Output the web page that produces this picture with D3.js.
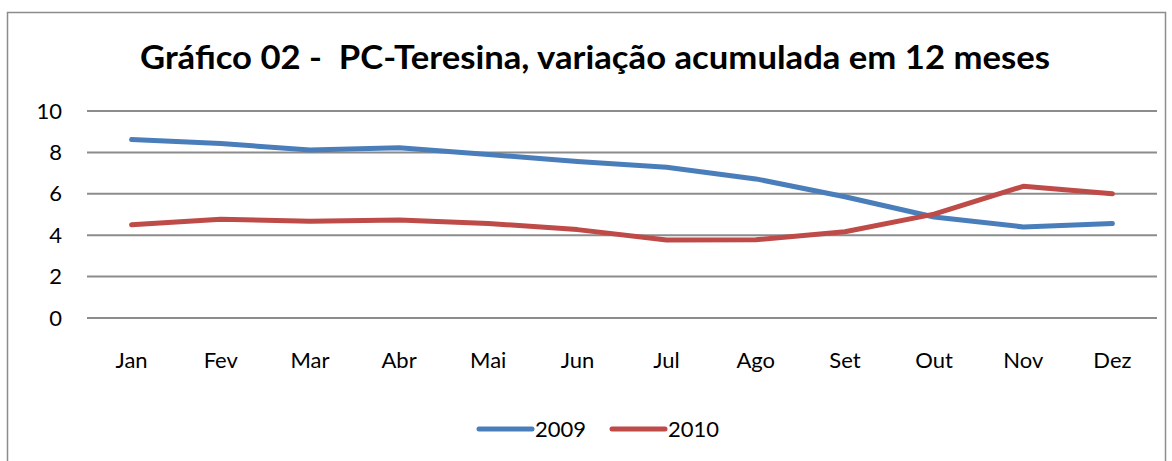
<!DOCTYPE html>
<html><head><meta charset="utf-8">
<script src="https://cdn.jsdelivr.net/npm/d3@7"></script>
<style>body{margin:0;background:#fff;} svg{display:block;} text{white-space:pre;}</style>
</head><body>
<script>
const months = ["Jan","Fev","Mar","Abr","Mai","Jun","Jul","Ago","Set","Out","Nov","Dez"];
const values2009 = [8.62, 8.43, 8.12, 8.23, 7.9, 7.56, 7.28, 6.72, 5.86, 4.88, 4.4, 4.56];
const values2010 = [4.5, 4.77, 4.67, 4.73, 4.57, 4.27, 3.77, 3.78, 4.17, 5.02, 6.36, 6.0];
const yTicks = [0, 2, 4, 6, 8, 10];
const seriesNames = ["2009", "2010"];
const colors = ["#4a7ebb", "#be4b48"];
const title = "Gráfico 02 -  PC-Teresina, variação acumulada em 12 meses";

const W = 1172, H = 461;
const font = "Lato, 'Open Sans', sans-serif";
const svg = d3.select("body").append("svg").attr("width", W).attr("height", H);

svg.append("rect").attr("x", 7.5).attr("y", 12.5).attr("width", 1158).attr("height", 460)
  .attr("fill", "#fff").attr("stroke", "#8c8c8c").attr("stroke-width", 1.5);

svg.append("text").attr("x", 595).attr("y", 69).attr("text-anchor", "middle")
  .attr("font-family", font).attr("font-weight", "bold").attr("font-size", 32)
  .attr("textLength", 910).attr("lengthAdjust", "spacingAndGlyphs")
  .attr("fill", "#000").text(title);

const x = d3.scaleBand().domain(months).range([87, 1157]);
const y = d3.scaleLinear().domain([0, 10]).range([318, 111]);

// gridlines
svg.append("g").selectAll("line").data(yTicks).join("line")
  .attr("x1", 87).attr("x2", 1157)
  .attr("y1", d => y(d)).attr("y2", d => y(d))
  .attr("stroke", "#8c8c8c").attr("stroke-width", 2);

// y axis labels
const yAxis = svg.append("g").attr("transform", "translate(87,0)")
  .call(d3.axisLeft(y).tickValues(yTicks).tickSize(0).tickPadding(25));
yAxis.select(".domain").remove();
yAxis.selectAll("text").attr("font-family", font).attr("font-size", 22).attr("fill", "#000");

// x axis labels
const xAxis = svg.append("g").attr("transform", "translate(0,318)")
  .call(d3.axisBottom(x).tickSize(0).tickPadding(34));
xAxis.select(".domain").remove();
xAxis.selectAll("text").attr("font-family", font).attr("font-size", 22).attr("fill", "#000");

const line = d3.line().x((d, i) => x(months[i]) + x.bandwidth() / 2).y(d => y(d));
[values2009, values2010].forEach((vals, k) => {
  svg.append("path").datum(vals).attr("d", line)
    .attr("fill", "none").attr("stroke", colors[k]).attr("stroke-width", 5)
    .attr("stroke-linecap", "round").attr("stroke-linejoin", "round");
});

// legend
const legendX = [479, 612];
seriesNames.forEach((name, k) => {
  svg.append("line").attr("x1", legendX[k]).attr("x2", legendX[k] + 53)
    .attr("y1", 429).attr("y2", 429).attr("stroke", colors[k]).attr("stroke-width", 5)
    .attr("stroke-linecap", "round");
  svg.append("text").attr("x", legendX[k] + 56).attr("y", 437)
    .attr("font-family", font).attr("font-size", 22).attr("fill", "#000").text(name);
});
</script>
</body></html>
